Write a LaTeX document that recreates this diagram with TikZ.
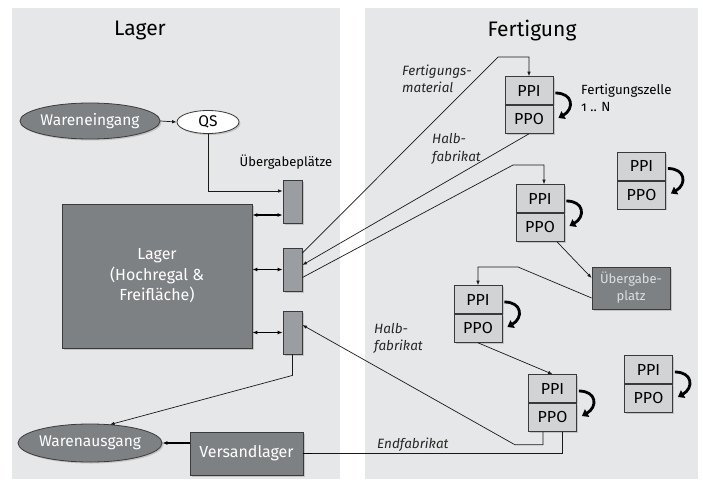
\documentclass[tikz,border=0pt]{standalone}
\usepackage{fontspec}
\setmainfont{Fira Sans}
\usetikzlibrary{arrows.meta,shapes.geometric,shadows,calc}
\definecolor{panel}{HTML}{E6E7E8}
\definecolor{darkbox}{HTML}{7E8184}
\definecolor{midbox}{HTML}{9A9EA3}
\definecolor{cellfill}{HTML}{D1D3D4}
\definecolor{edge}{HTML}{3A3A3A}
\definecolor{palet}{HTML}{DCDEE0}
\tikzset{
  shad/.style={drop shadow={opacity=0.35,shadow xshift=1.5pt,shadow yshift=-1.5pt}},
  darkrect/.style={rectangle,draw=edge,line width=0.8pt,fill=darkbox,text=white,inner sep=0pt,shad,font=\fontsize{16}{20.5}\selectfont,align=center},
  transfer/.style={rectangle,draw=edge,line width=0.8pt,fill=midbox,minimum width=19pt,minimum height=43pt,inner sep=0pt,shad},
  cellpart/.style={rectangle,draw=edge,line width=0.8pt,fill=cellfill,minimum width=48pt,minimum height=28pt,inner sep=0pt,shad,font=\fontsize{16}{16}\selectfont},
  ovalnode/.style={ellipse,draw=edge,line width=0.8pt,inner sep=0pt,font=\fontsize{15.5}{15.5}\selectfont,shad},
  flow/.style={draw=black!90,line width=0.7pt,-{Latex[length=4.5pt,width=3.5pt]}},
  plainflow/.style={draw=black!90,line width=0.7pt},
  dbl/.style={draw=black,line width=1.3pt,{Latex[length=5pt,width=4pt]}-{Latex[length=5pt,width=4pt]}},
  thickflow/.style={draw=black,line width=1.3pt,-{Latex[length=5pt,width=4pt]}},
  loop arrow/.style={draw=black,line width=2.8pt,-{Triangle[length=6pt,width=8.5pt]}},
  lbl/.style={font=\fontsize{13.5}{17.5}\selectfont\itshape,align=left,inner sep=0pt,text=black!85},
  title/.style={font=\fontsize{21}{21}\selectfont,inner sep=0pt},
}
\newcommand\ppcell[3]{%
  \node[cellpart,anchor=south] (#1i) at (#2,#3) {PPI};
  \node[cellpart,anchor=north] (#1o) at (#2,#3) {PPO};
  \draw[line width=1.8pt,edge] (#1i.south west) -- (#1i.south east);
  \draw[loop arrow] ([shift={(2,-12)}]#1i.south east) .. controls +(18,0) and +(16,-9) .. ([shift={(5,13)}]#1o.north east);
}
\begin{document}
\begin{tikzpicture}[x=1pt,y=-1pt]
\useasboundingbox (0,0) rectangle (703,481);
\fill[white] (0,0) rectangle (703,481);
% panels
\fill[panel] (12,8) rectangle (340,479);
\fill[panel] (365,8) rectangle (698,479);
\node[title] (tl) at (140,31) {Lager};
\node[title] (tf) at (532,31) {Fertigung};

% Lager side
\node[ovalnode,fill=darkbox,text=white,minimum width=126pt,minimum height=36pt] (we) at (90,121) {Wareneingang};
\node[ovalnode,fill=white,minimum width=62pt,minimum height=23pt] (qs) at (208,122) {QS};
\node[font=\fontsize{13}{13}\selectfont,inner sep=0pt] (uel) at (286,162) {Übergabeplätze};
\node[transfer] (b1) at (292.5,201.5) {};
\node[transfer] (b2) at (292.5,269.5) {};
\node[transfer] (b3) at (292.5,332.5) {};
\node[darkrect,minimum width=190pt,minimum height=144pt] (lg) at (157,276) {Lager\\(Hochregal \&\\Freifläche)};
\node[ovalnode,fill=darkbox,text=white,minimum width=124pt,minimum height=38pt] (wa) at (90,443) {Warenausgang};
\node[darkrect,minimum width=113pt,minimum height=43pt] (vl) at (246.5,453.5) {Versandlager};

% Fertigung side
\ppcell{cA}{529}{105}
\ppcell{cB}{540}{213}
\ppcell{cC}{641.5}{180.5}
\ppcell{cD}{478}{314}
\ppcell{cE}{552.5}{403}
\ppcell{cF}{648.5}{384}
\node[darkrect,text=palet,minimum width=78pt,minimum height=42pt,font=\fontsize{13}{17}\selectfont] (ue) at (631,288) {Übergabe-\\platz};

% labels
\node[lbl,anchor=west] (l1) at (402,79) {Fertigungs-\\material};
\node[lbl,anchor=west] (l2) at (432,149) {Halb-\\fabrikat};
\node[lbl,anchor=west] (l3) at (374,338.5) {Halb-\\fabrikat};
\node[lbl,anchor=west] (l4) at (377,445) {Endfabrikat};
\node[font=\fontsize{13.3}{17}\selectfont,align=left,inner sep=0pt,anchor=west] (l5) at (581,98) {Fertigungszelle\\{\addfontfeature{Numbers=OldStyle}1} .. N};

% helper coordinates
\coordinate (b1d) at ([yshift=-13.5pt]b1.west);
\coordinate (b1u) at ([yshift=10.5pt]b1.west);

% connectors Lager
\draw[flow] (we.east) -- (qs.west);
\draw[flow] (qs.south) |- (b1u);
\draw[dbl] (lg.east |- b1d) -- (b1d);
\draw[dbl] (lg.east |- b2.west) -- (b2.west);
\draw[dbl] (lg.east |- b3.west) -- (b3.west);
\draw[flow] (b3.south) -- ++(0,21) -- ([xshift=20pt,yshift=-1pt]wa.north);
\draw[thickflow] (vl.west |- wa.east) -- (wa.east);

% connectors Fertigung
\draw[flow] ([yshift=16.5pt]b2.east) -- (498,57) -| (cAi.north);
\draw[flow] (cAo.south) -- ([yshift=4.5pt]b2.east);
\draw[flow] ([yshift=-8pt]b2.east) -- (513,165) -| ([xshift=4pt]cBi.north);
\draw[flow] ([xshift=17pt]cBo.south) -- ([yshift=10pt]ue.west);
\draw[flow] ([yshift=-10pt]ue.west) -- (518,267) -| (cDi.north);
\draw[flow] (cDo.south) -- (cEi.north);
\draw[flow] ([xshift=-9.5pt]cEo.south) -- ++(0,13) -- ++(-28,0) -- ([yshift=7.5pt]b3.east);
\draw[plainflow] (vl.east) -| ([xshift=9.5pt]cEo.south);
\draw[line width=1.8pt,black] (vl.east) -- ++(9,0);
\end{tikzpicture}
\end{document}
